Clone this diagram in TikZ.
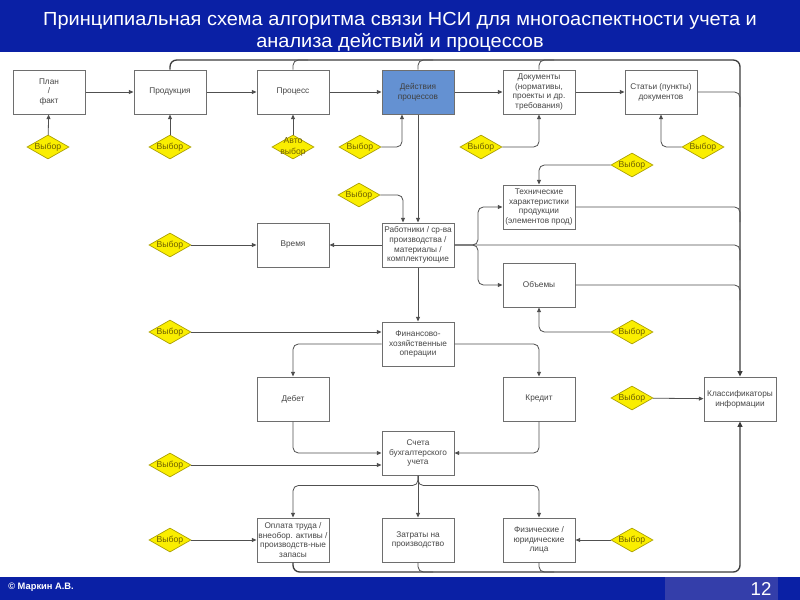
\documentclass[tikz,border=0pt]{standalone}
\usepackage{fontspec}
\setmainfont{Liberation Sans}
\newfontfamily\titlefont[FakeStretch=1.055]{Liberation Sans}
\usetikzlibrary{shapes.geometric,arrows.meta,calc}

\definecolor{hdrblue}{RGB}{10,32,165}
\definecolor{pgblue}{RGB}{52,62,170}
\definecolor{actblue}{RGB}{100,145,210}
\definecolor{boxline}{RGB}{110,110,110}
\definecolor{conncol}{RGB}{80,80,80}
\definecolor{buscol}{RGB}{60,60,60}
\definecolor{dyellow}{RGB}{250,238,0}
\definecolor{dborder}{RGB}{170,158,0}
\definecolor{dtext}{RGB}{110,95,0}
\definecolor{txtgray}{RGB}{70,70,70}

\tikzset{
  box/.style={draw=boxline, line width=0.75pt, fill=white, minimum width=54pt, minimum height=33pt,
    inner sep=1pt, align=center, font=\fontsize{6.2}{7.3}\selectfont, text=txtgray},
  actbox/.style={box, fill=actblue, draw=boxline, text=black!75},
  vtext/.style={font=\fontsize{6.5}{8}\selectfont, text=dtext, align=center, inner sep=0pt},
  vybor/.style={diamond, draw=dborder, line width=0.5pt, fill=dyellow, minimum width=31.5pt, minimum height=18pt,
    inner sep=0pt, label={[vtext]center:#1}},
  conn/.style={draw=conncol, line width=0.6pt, rounded corners=4pt},
  arr/.style={conn, -{Triangle[length=3.5pt,width=3pt]}},
  busline/.style={draw=buscol, line width=1pt, rounded corners=5pt},
  busarr/.style={busline, -{Triangle[length=4pt,width=3.5pt]}}
}

\begin{document}
\begin{tikzpicture}[x=0.75pt,y=-0.75pt]
\useasboundingbox (0,0) rectangle (800,600);
\fill[white] (0,0) rectangle (800,600);

% header
\fill[hdrblue] (0,0) rectangle (800,52);
\node[font=\titlefont\fontsize{14.2}{16.5}\selectfont, text=white, align=center] (title) at (400,32)
  {Принципиальная схема алгоритма связи НСИ для многоаспектности учета и\\анализа действий и процессов};

% footer
\fill[hdrblue] (0,577) rectangle (800,600);
\fill[pgblue] (665,577) rectangle (778,600);
\node[font=\bfseries\fontsize{7}{9}\selectfont, text=white, anchor=west, inner sep=0pt] (copy) at (8,587) {© Маркин А.В.};
\node[font=\fontsize{14}{16}\selectfont, text=white, inner sep=0pt] (page) at (761,589) {12};

% boxes
\node[box] (plan) at (49,92) {План\\/\\факт};
\node[box] (prod) at (170,92) {Продукция};
\node[box] (proc) at (293,92) {Процесс};
\node[actbox] (dej) at (418,92) {Действия\\процессов};
\node[box] (docs) at (539,92) {Документы\\(нормативы,\\проекты и др.\\требования)};
\node[box] (stat) at (661,92) {Статьи (пункты)\\документов};
\node[box] (tech) at (539,207) {Технические\\характеристики\\продукции\\(элементов прод)};
\node[box] (rab) at (418,245) {Работники / ср-ва\\производства /\\материалы /\\комплектующие};
\node[box] (vrem) at (293,245) {Время};
\node[box] (obj) at (539,285) {Объемы};
\node[box] (fin) at (418,344) {Финансово-\\хозяйственные\\операции};
\node[box] (deb) at (293,399) {Дебет};
\node[box] (kred) at (539,399) {Кредит};
\node[box] (klass) at (740,399) {Классификаторы\\информации};
\node[box] (schet) at (418,453) {Счета\\бухгалтерского\\учета};
\node[box] (opl) at (293,540) {Оплата труда /\\внеобор. активы /\\производств-ные\\запасы};
\node[box] (zatr) at (418,540) {Затраты на\\производство};
\node[box] (fiz) at (539,540) {Физические /\\юридические\\лица};

% diamonds
\node[vybor=Выбор] (v1) at (48,147) {};
\node[vybor=Выбор] (v2) at (170,147) {};
\node[vybor={Авто\\выбор}] (v3) at (293,147) {};
\node[vybor=Выбор] (v4) at (360,147) {};
\node[vybor=Выбор] (v5) at (481,147) {};
\node[vybor=Выбор] (v6) at (703,147) {};
\node[vybor=Выбор] (v7) at (632,165) {};
\node[vybor=Выбор] (v8) at (359,195) {};
\node[vybor=Выбор] (v9) at (170,245) {};
\node[vybor=Выбор] (v10) at (632,332) {};
\node[vybor=Выбор] (v11) at (170,332) {};
\node[vybor=Выбор] (v12) at (632,398) {};
\node[vybor=Выбор] (v13) at (170,465) {};
\node[vybor=Выбор] (v14) at (170,540) {};
\node[vybor=Выбор] (v15) at (632,540) {};

% bus coordinates
\coordinate (tr) at (740,60);
\coordinate (br) at (740,572);
\coordinate (fork) at (478,245);

% top row chain
\draw[arr] (plan) -- (prod);
\draw[arr] (prod) -- (proc);
\draw[arr] (proc) -- (dej);
\draw[arr] (dej) -- (docs);
\draw[arr] (docs) -- (stat);

% diamonds to top row
\draw[arr] (v1) -- (plan);
\draw[arr] (v2) -- (prod);
\draw[arr] (v3) -- (proc);
\draw[arr] (v4.east) -| ([xshift=-12pt]dej.south);
\draw[arr] (v5.east) -| (docs.south);
\draw[arr] (v6.west) -| (stat.south);
\draw[arr] (v7.west) -| (tech.north);
\draw[arr] (v8.east) -| ([xshift=-11.25pt]rab.north);

% top bus
\draw[busarr] (prod.north) |- (tr) -- (klass.north);
\draw[conn] (proc.north) |- ($(tr -| proc.north)+(15,0)$);
\draw[conn] (dej.north) |- ($(tr -| dej.north)+(15,0)$);
\draw[conn] (docs.north) |- ($(tr -| docs.north)+(15,0)$);

% right feeders
\draw[conn] (stat.east) -| ($(stat.east -| tr)+(0,15)$);
\draw[conn] (tech.east) -| ($(tech.east -| tr)+(0,15)$);
\draw[conn] (rab.east) -| ($(rab.east -| tr)+(0,15)$);
\draw[conn] (obj.east) -| ($(obj.east -| tr)+(0,15)$);

% middle
\draw[arr] (dej.south) -- (rab.north);
\draw[arr] (rab.west) -- (vrem.east);
\draw[arr] (v9) -- (vrem);
\draw[arr] (rab.east) -- (fork) |- (tech.west);
\draw[arr] (rab.east) -- (fork) |- (obj.west);
\draw[arr] (v10.west) -| (obj.south);
\draw[arr] (rab.south) -- (fin.north);
\draw[arr] (v11.east) -- (v11.east -| fin.west);
\draw[arr] (fin.west) -| (deb.north);
\draw[arr] (fin.east) -| (kred.north);
\draw[arr] (deb.south) |- (schet.west);
\draw[arr] (kred.south) |- (schet.east);
\draw[arr] (v13.east) -- (v13.east -| schet.west);
\draw[arr] (v12) -- (klass);

% bottom
\draw[arr] (schet.south) -- ++(0,10) -| (opl.north);
\draw[arr] (schet.south) -- (zatr.north);
\draw[arr] (schet.south) -- ++(0,10) -| (fiz.north);
\draw[arr] (v14) -- (opl);
\draw[arr] (v15) -- (fiz);

% bottom bus
\draw[busarr] (opl.south) |- (br) -- (klass.south);
\draw[conn] (zatr.south) |- ($(br -| zatr.south)+(15,0)$);
\draw[conn] (fiz.south) |- ($(br -| fiz.south)+(15,0)$);
\end{tikzpicture}
\end{document}
